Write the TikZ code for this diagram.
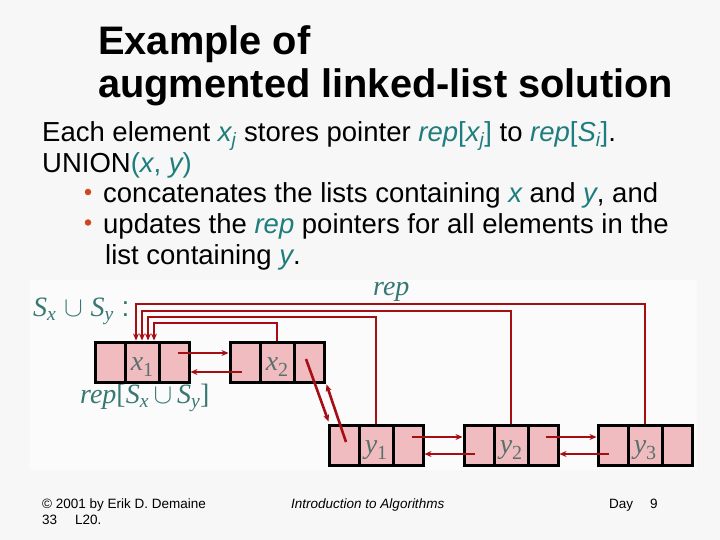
\RequirePackage{fix-cm}
\documentclass[tikz,border=0pt]{standalone}
\usepackage{fontspec}
\setmainfont{Liberation Sans}
\newfontfamily\serf{Liberation Serif}
\usetikzlibrary{calc,arrows.meta}
\definecolor{pagebg}{RGB}{247,247,247}
\definecolor{diagbg}{RGB}{251,251,251}
\definecolor{tealc}{RGB}{30,125,125}
\definecolor{labc}{RGB}{90,112,108}
\definecolor{stealc}{RGB}{55,120,115}
\definecolor{pinkc}{RGB}{240,188,192}
\definecolor{redc}{RGB}{165,15,20}
\definecolor{bulc}{RGB}{205,70,30}
\newcommand{\tq}[1]{\textcolor{tealc}{\itshape #1}}
\newcommand{\fs}[1]{\fontsize{#1}{#1}\selectfont}
\newcommand{\si}[1]{{\serf\itshape #1}}
\newcommand{\ssub}[2]{\si{#1}\textsubscript{\si{#2}}}
\newcommand{\nsub}[2]{\si{#1}\raisebox{-0.2em}{\serf\fontsize{20}{20}\selectfont #2}}
\begin{document}
\begin{tikzpicture}[x=1pt,y=-1pt,
  txt/.style={inner sep=0pt,anchor=base west},
  cellbox/.style={draw=black,line width=3pt,fill=pinkc,minimum height=40pt,inner sep=0pt},
  cellL/.style={cellbox,minimum width=30pt},
  cellM/.style={cellbox,minimum width=34pt},
  cellR/.style={cellbox,minimum width=30pt},
  lab/.style={inner sep=0pt,anchor=base,text=labc,font=\fs{28}},
  repline/.style={draw=redc,line width=2.6pt,-{Stealth[length=7pt,width=6pt]}},
  nextp/.style={draw=redc,line width=2.6pt,-{Stealth[length=7pt,width=6pt]}},
]
\useasboundingbox (0,0) rectangle (720,540);
\fill[pagebg] (0,0) rectangle (720,540);
\fill[diagbg] (30,280) rectangle (697,470);

% title
\node[txt,font=\bfseries\fs{39.8}] (t1) at (98,55) {Example of};
\node[txt,font=\bfseries\fs{39.8}] (t2) at (98,98) {augmented linked-list solution};

% body
\node[txt,font=\fs{27.5}] (b1) at (42,142) {Each element \tq{x\textsubscript{j}} stores pointer \tq{rep}\textcolor{tealc}{[}\tq{x\textsubscript{j}}\textcolor{tealc}{]} to \tq{rep}\textcolor{tealc}{[}\tq{S\textsubscript{i}}\textcolor{tealc}{]}.};
\node[txt,font=\fs{27.5}] (b2) at (42,172.5) {UNION\textcolor{tealc}{(}\tq{x}\textcolor{tealc}{, }\tq{y}\textcolor{tealc}{)}};
\node[circle,fill=bulc,inner sep=0pt,minimum size=6.5pt] (bu1) at (88,192) {};
\node[txt,font=\fs{27.5}] (b3) at (103,203) {concatenates the lists containing \tq{x} and \tq{y}, and};
\node[circle,fill=bulc,inner sep=0pt,minimum size=6.5pt] (bu2) at (88,222.5) {};
\node[txt,font=\fs{27.5}] (b4) at (103,233.5) {updates the \tq{rep} pointers for all elements in the};
\node[txt,font=\fs{27.5}] (b5) at (105,264) {list containing \tq{y}.};

% diagram labels
\node[txt,text=stealc,font=\fs{28}] (su) at (33,316) {\ssub{S}{x}\;$\cup$\;\ssub{S}{y}\;:};
\node[txt,text=stealc,font=\fs{28}] (replab) at (373,295) {\si{rep}};
\node[txt,text=stealc,font=\fs{28}] (repS) at (80,403) {\si{rep}{\serf[}\ssub{S}{x}\,$\cup$\,\ssub{S}{y}{\serf]}};

% list elements
\newcommand{\elem}[5]{%
  \node[cellL] (#1a) at (#2+15,#3) {};
  \node[cellM] (#1b) at (#2+47,#3) {};
  \node[cellR] (#1c) at (#2+79,#3) {};
  \node[lab,yshift=13pt] (#1l) at (#1b.south) {\nsub{#4}{#5}};
}
\elem{xo}{95}{362}{x}{1}
\elem{xt}{230}{362}{x}{2}
\elem{yo}{329}{445}{y}{1}
\elem{yt}{464}{445}{y}{2}
\elem{yh}{598}{445}{y}{3}

% rep pointers
\coordinate (r3) at (136,304);
\coordinate (r2) at (142,311);
\coordinate (r1) at (148,317);
\coordinate (r0) at (154,323);
\draw[repline] (yhb.north) |- (r3) -- (r3 |- xob.north);
\draw[repline] (ytb.north) |- (r2) -- (r2 |- xob.north);
\draw[repline] (yob.north) |- (r1) -- (r1 |- xob.north);
\draw[repline] (xtb.north) |- (r0) -- (r0 |- xob.north);

% next / prev pointers
\draw[nextp] ($(xoc.center)+(4,-9)$) -- ($(xta.west)+(0,-9)$);
\draw[nextp] ($(xta.center)+(-3,10)$) -- ($(xoc.east)+(0,10)$);
\draw[nextp] ($(xtc.center)+(-3,-3)$) -- ($(yoa.north west)+(1,-2)$);
\draw[nextp] ($(yoa.center)+(2,-3)$) -- ($(xtc.south east)+(1,1)$);
\draw[nextp] ($(yoc.center)+(4,-8)$) -- ($(yta.west)+(0,-8)$);
\draw[nextp] ($(yta.center)+(-4,9)$) -- ($(yoc.east)+(0,9)$);
\draw[nextp] ($(ytc.center)+(3,-8)$) -- ($(yha.west)+(0,-8)$);
\draw[nextp] ($(yha.center)+(-4,9)$) -- ($(ytc.east)+(0,9)$);

% footer
\node[txt,font=\fs{13.5}] (f1) at (42,508) {\textcopyright{} 2001 by Erik D. Demaine};
\node[txt,font=\fs{13.5}] (f2) at (42,524) {33};
\node[txt,font=\fs{13.5}] (f3) at (75,524) {L20.};
\node[txt,font=\itshape\fs{13.5}] (f4) at (291,508) {Introduction to Algorithms};
\node[txt,font=\fs{13.5}] (f5) at (609,508) {Day};
\node[txt,font=\fs{13.5}] (f6) at (650,508) {9};
\end{tikzpicture}
\end{document}
